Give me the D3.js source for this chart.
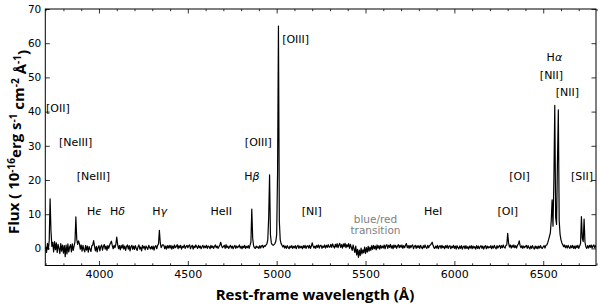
<!DOCTYPE html>
<html>
<head>
<meta charset="utf-8">
<script src="https://cdnjs.cloudflare.com/ajax/libs/d3/7.8.5/d3.min.js"></script>
<style>
  body { margin: 0; background: #fff; }
  .tick text { font-family: "DejaVu Sans", sans-serif; fill: #000; }
  .tick line { stroke: #000; }
  .line-label { font-family: "DejaVu Sans", sans-serif; font-size: 11px; fill: #000; }
  .axis-title { font-family: "Open Sans", sans-serif; font-weight: bold; fill: #000; }
</style>
</head>
<body>
<div id="chart"></div>
<script>
// spectrum, sampled every 5 A from 3700 A (one row = 100 A)
var waveStart = 3700, waveStep = 5;
var flux = [
  0.5, -1.2, 1.5, -0.3, 2.2, 14.5, 5.0, 0.6, 1.8, -1.0, 2.0, -0.4, 1.6, -1.2, 1.2, 0.0, -1.5, 1.4, -0.8, 1.0,
  -1.4, 0.8, -2.4, 1.0, -1.6, 1.3, -1.0, 0.4, 1.1, -1.0, 1.3, -0.6, 0.7, 1.9, 9.2, 2.6, 1.2, 2.2, 1.4, -0.2,
  1.0, -0.8, 0.9, -0.3, -1.0, 0.9, -0.5, 0.7, -1.1, 0.5, -0.2, -0.9, 0.8, 1.0, 2.3, 0.5, -0.7, 0.6, -1.0, 0.3,
  0.8, -0.7, 0.5, 1.0, -0.5, 0.6, 1.1, -0.2, 0.7, -0.6, 0.8, 0.0, 1.0, 1.6, 2.1, 0.8, -0.1, 0.9, 0.2, 1.2,
  3.3, 1.2, -0.1, 0.8, -0.4, 0.9, 0.1, 1.1, -0.2, 0.7, -0.6, 0.6, 1.0, -0.2, 0.8, -0.7, 0.5, 0.9, -0.3, 0.7,
  -0.3, 0.8, 0.0, -0.6, 0.5, 1.0, -0.2, 0.4, -0.7, 0.9, 0.1, 0.6, -0.4, 0.7, 0.2, -0.3, 0.9, 0.3, -0.2, 0.6,
  -0.2, 0.7, -0.5, 0.5, 0.8, -0.1, 0.9, 1.3, 5.3, 1.6, 0.2, 0.8, 1.1, 0.9, -0.1, 0.7, -0.2, 0.8, 0.1, 0.9,
  0.1, 0.9, -0.2, 0.7, 0.0, 1.0, 0.2, 0.5, 1.1, -0.1, 0.8, 0.2, 0.9, -0.2, 0.6, 0.3, 1.0, 0.0, 0.5, 0.9,
  0.2, 0.8, 1.0, -0.1, 0.6, 0.9, -0.2, 0.7, 0.2, 1.0, 0.5, 0.0, 0.9, 0.2, 0.7, -0.1, 0.5, 0.9, 0.1, 0.7,
  0.2, 0.9, 0.0, 0.7, 0.5, -0.1, 0.9, 0.2, 0.7, 0.0, 0.6, 1.0, 0.2, 0.7, 0.0, 0.5, 0.9, 1.8, 0.8, 0.2,
  0.5, 0.9, 0.0, 1.1, 0.2, 0.7, 0.0, 0.5, 0.9, 0.1, 0.7, -0.1, 0.5, 0.9, 0.0, 0.7, 0.2, 0.5, 1.0, 0.1,
  0.6, -0.1, 0.7, 0.2, 0.9, 0.0, 0.6, 0.2, 0.8, 0.0, 0.9, 1.8, 11.5, 3.0, 0.8, 0.2, 0.0, 0.7, 0.2, 0.5,
  0.0, 0.8, 0.1, 0.7, 0.9, 0.2, 0.8, 0.6, 1.0, 1.3, 2.5, 9.0, 21.5, 4.0, 1.6, 1.1, 0.9, 1.1, 1.4, 2.0,
  4.0, 22.0, 65.0, 8.0, 2.5, 1.4, 0.9, 0.4, 0.9, 0.1, 0.7, 0.0, 0.8, 0.3, -0.1, 0.7, 0.2, 0.8, 0.0, 0.6,
  0.2, 0.8, -0.1, 0.6, 0.9, 0.0, 0.7, 0.2, 0.6, -0.1, 0.8, 0.2, 0.9, 0.0, 0.6, 0.8, 0.1, 0.9, 0.0, 0.6,
  1.6, 0.7, 0.1, 0.7, 0.0, 0.9, 0.3, 1.0, 0.1, 0.8, 0.9, 0.0, 0.7, 0.3, 1.0, 0.1, 0.9, 0.3, 1.1, 0.4,
  0.4, 1.2, 0.3, 1.3, 0.6, 0.1, 1.2, 0.4, 1.4, 0.2, 1.0, 1.5, 0.3, 1.1, 0.1, 1.3, 0.5, 1.5, 0.2, 1.1,
  0.5, 1.4, 0.0, 1.2, 0.3, -0.6, 1.0, -0.1, -1.2, 0.7, -1.9, -0.3, -2.6, -0.5, -2.1, 0.1, -1.6, -0.4, -1.3, 0.4,
  -1.5, 0.2, -1.1, 0.6, -0.8, 0.4, -0.6, 0.8, -0.3, 0.9, -0.1, 0.7, -0.4, 1.0, 0.0, 0.8, -0.2, 0.9, 0.1, 0.7,
  0.1, 1.0, -0.1, 0.8, 1.1, 0.0, 0.9, 0.3, 1.2, 0.1, 0.8, -0.1, 1.0, 0.3, 0.9, 0.0, 0.7, 1.1, 0.2, 0.9,
  0.3, 1.0, 0.0, 0.8, 0.2, 0.9, 1.4, 0.2, 0.8, 0.0, 0.9, 0.2, 0.8, 1.0, -0.1, 0.6, 0.9, 0.0, 0.8, 0.2,
  0.8, 0.0, 0.9, 0.3, -0.1, 0.8, 0.2, 1.0, 0.3, 0.0, 0.9, 0.2, 0.8, 1.0, 1.3, 1.8, 0.9, 0.2, 0.0, 0.7,
  0.1, 0.9, -0.1, 0.6, 0.8, 0.0, 0.9, 0.2, 0.6, -0.1, 0.8, 0.2, 0.9, 0.0, 0.6, 0.8, -0.1, 0.6, 0.2, 0.9,
  0.0, 0.7, -0.2, 0.8, 0.2, -0.1, 0.7, 0.0, 0.8, -0.2, 0.5, 0.7, -0.1, 0.8, 0.0, 0.5, -0.2, 0.7, 0.1, 0.8,
  -0.1, 0.7, 0.1, 0.5, -0.2, 0.8, 0.0, 0.7, -0.1, 0.5, 0.8, 0.0, 0.7, -0.2, 0.5, 0.8, -0.1, 0.7, 0.1, 0.5,
  0.2, 0.8, -0.1, 0.7, 0.1, 0.9, 0.2, -0.1, 0.8, 0.1, 0.6, 0.9, 0.0, 0.8, 0.2, 1.0, 0.3, 0.1, 0.9, 1.0,
  4.4, 1.6, 0.4, 1.0, 0.1, 0.9, 0.3, 1.0, 0.2, 0.8, 0.1, 0.9, 1.3, 2.2, 0.8, 0.2, 0.8, 0.0, 0.7, 0.2,
  0.6, 0.9, 0.0, 0.8, 0.2, -0.1, 0.7, 0.0, 0.8, 0.2, -0.2, 0.7, 0.0, 0.6, -0.1, 0.7, 0.1, 0.8, 0.2, 0.0,
  0.5, 0.8, 0.1, 0.9, 1.0, 1.6, 2.5, 3.5, 4.5, 8.0, 14.2, 6.5, 20.0, 41.8, 9.0, 7.0, 25.0, 40.5, 8.0, 4.0,
  2.5, 1.6, 1.1, 0.5, 1.0, 0.2, 0.8, 0.1, 0.9, 0.3, 0.0, 0.8, 0.2, 0.9, 0.0, 0.7, -0.1, 0.8, 0.2, 0.9,
  0.0, 0.7, 1.4, 9.3, 3.0, 2.0, 8.6, 1.8, 0.5, 0.0, 0.8, 0.1, 0.9, 0.3, 1.0, 0.1, 0.7, 1.0, 0.2, 0.8,
  0.4
];

var xTicks = [4000, 4500, 5000, 5500, 6000, 6500];
var yTicks = [0, 10, 20, 30, 40, 50, 60, 70];

// line ids: text, left edge wavelength, flux at text middle
var lineNames = ["[OII]", "[NeIII]", "[NeIII]", "H\u03f5", "H\u03b4", "H\u03b3", "HeII", "H\u03b2", "[OIII]", "[OIII]",
                 "[NI]", "HeI", "[OI]", "[OI]", "[SII]", "H\u03b1", "[NII]", "[NII]"];
var lineWave = [3702, 3775, 3875, 3932, 4062, 4300, 4628, 4818, 4821, 5031,
                5141, 5829, 6243, 6309, 6656, 6519, 6481, 6571];
var lineFlux = [41.1, 31.1, 21.2, 11.0, 11.0, 11.0, 11.0, 21.2, 31.1, 61.3,
                11.0, 11.0, 11.0, 21.2, 21.2, 56.0, 50.6, 45.8];

var noteText = ["blue/red", "transition"];
var noteWave = 5556;
var noteFlux = [8.5, 5.2];

var width = 600, height = 307;
var margin = {top: 9, right: 4, bottom: 41.5, left: 45.3};

var svg = d3.select("#chart").append("svg")
    .attr("width", width)
    .attr("height", height);

var x = d3.scaleLinear()
    .domain([3698, 6797])
    .range([margin.left, width - margin.right]);

var y = d3.scaleLinear()
    .domain([-5, 70])
    .range([height - margin.bottom, margin.top]);

var data = flux.map(function(f, i) {
    return {w: waveStart + i * waveStep, f: f};
});

// ticks, all pointing into the frame
var minor = d3.range(3700, 6801, 100).filter(function(d) { return d % 500 !== 0; });

svg.append("g")
    .attr("transform", "translate(0," + y.range()[0] + ")")
    .call(d3.axisBottom(x).tickValues(minor).tickSize(-2.2).tickFormat(""))
    .call(function(g) { g.select(".domain").remove(); });
svg.append("g")
    .attr("transform", "translate(0," + y.range()[1] + ")")
    .call(d3.axisTop(x).tickValues(minor).tickSize(-2.2).tickFormat(""))
    .call(function(g) { g.select(".domain").remove(); });

svg.append("g")
    .attr("transform", "translate(0," + y.range()[0] + ")")
    .call(d3.axisBottom(x).tickValues(xTicks).tickSize(-4.5).tickPadding(5).tickFormat(d3.format("d")))
    .call(function(g) { g.select(".domain").remove(); })
    .selectAll("text").style("font-size", "11px");
svg.append("g")
    .attr("transform", "translate(0," + y.range()[1] + ")")
    .call(d3.axisTop(x).tickValues(xTicks).tickSize(-4.5).tickFormat(""))
    .call(function(g) { g.select(".domain").remove(); });

svg.append("g")
    .attr("transform", "translate(" + x.range()[0] + ",0)")
    .call(d3.axisLeft(y).tickValues(yTicks).tickSize(-4.5).tickPadding(4))
    .call(function(g) { g.select(".domain").remove(); })
    .selectAll("text").style("font-size", "10.5px");
svg.append("g")
    .attr("transform", "translate(" + x.range()[1] + ",0)")
    .call(d3.axisRight(y).tickValues(yTicks).tickSize(-4.5).tickFormat(""))
    .call(function(g) { g.select(".domain").remove(); });

svg.selectAll(".tick line").attr("stroke-width", 0.8);

// spectrum
var clipId = "plot-clip";
svg.append("clipPath").attr("id", clipId)
    .append("rect")
    .attr("x", x.range()[0]).attr("y", y.range()[1])
    .attr("width", x.range()[1] - x.range()[0])
    .attr("height", y.range()[0] - y.range()[1]);

svg.append("path")
    .datum(data)
    .attr("clip-path", "url(#" + clipId + ")")
    .attr("fill", "none")
    .attr("stroke", "#000")
    .attr("stroke-width", 1.2)
    .attr("stroke-linejoin", "round")
    .attr("d", d3.line()
        .x(function(d) { return x(d.w); })
        .y(function(d) { return y(d.f); }));

// frame
svg.append("rect")
    .attr("x", x.range()[0]).attr("y", y.range()[1])
    .attr("width", x.range()[1] - x.range()[0])
    .attr("height", y.range()[0] - y.range()[1])
    .attr("fill", "none")
    .attr("stroke", "#000")
    .attr("stroke-width", 1);

// line identifications
var labels = svg.append("g");
lineNames.forEach(function(name, i) {
    var t = labels.append("text")
        .attr("class", "line-label")
        .attr("x", x(lineWave[i]))
        .attr("y", y(lineFlux[i]))
        .attr("dy", "0.36em");
    if (name.charAt(0) === "H" && name.length === 2) {
        t.append("tspan").text("H");
        t.append("tspan").attr("font-style", "italic").text(name.charAt(1));
    } else {
        t.text(name);
    }
});

noteText.forEach(function(s, i) {
    svg.append("text")
        .attr("class", "line-label")
        .style("fill", "#808080")
        .style("font-size", "10.5px")
        .attr("text-anchor", "middle")
        .attr("x", x(noteWave))
        .attr("y", y(noteFlux[i]))
        .attr("dy", "0.36em")
        .text(s);
});

// axis titles
svg.append("text")
    .attr("class", "axis-title")
    .attr("x", 315)
    .attr("y", 300)
    .attr("text-anchor", "middle")
    .style("font-size", "15px")
    .text("Rest-frame wavelength (\u00c5)");

var yt = svg.append("text")
    .attr("class", "axis-title")
    .attr("transform", "translate(19,142) rotate(-90)")
    .attr("text-anchor", "middle")
    .style("font-size", "15px");
yt.append("tspan").text("Flux ( 10");
yt.append("tspan").attr("dy", "-0.45em").style("font-size", "10px").text("-16");
yt.append("tspan").attr("dy", "0.45em").text("erg s");
yt.append("tspan").attr("dy", "-0.45em").style("font-size", "10px").text("-1");
yt.append("tspan").attr("dy", "0.45em").text(" cm");
yt.append("tspan").attr("dy", "-0.45em").style("font-size", "10px").text("-2");
yt.append("tspan").attr("dy", "0.45em").text(" \u00c5");
yt.append("tspan").attr("dy", "-0.45em").style("font-size", "10px").text("-1");
yt.append("tspan").attr("dy", "0.45em").text(")");
</script>
</body>
</html>
